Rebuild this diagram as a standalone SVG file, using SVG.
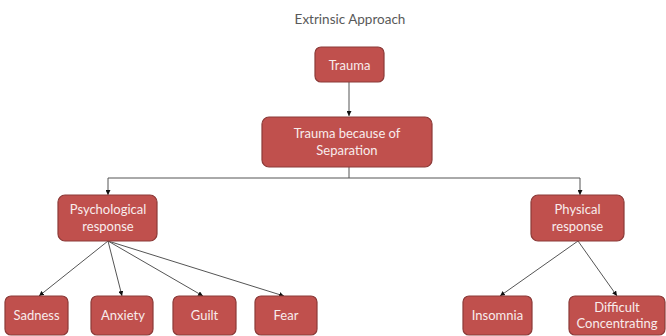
<svg xmlns="http://www.w3.org/2000/svg" width="666" height="336" viewBox="0 0 666 336">
<style>
.box{fill:#C0504D;stroke:#8C3A38;stroke-width:1.2}
.t{font-family:Lato,"Liberation Sans",sans-serif;font-size:13px;fill:#F8ECEC;text-anchor:middle}
.c{stroke:#555;stroke-width:1;fill:none}
</style>
<defs>
<marker id="a" viewBox="0 0 6 6" refX="6" refY="3" markerWidth="5" markerHeight="5" orient="auto"><path d="M0,0L6,3L0,6z" fill="#111"/></marker>
</defs>
<rect width="666" height="336" fill="#fff"/>
<text x="350" y="24" font-family="Lato,'Liberation Sans',sans-serif" font-size="13.5" fill="#595959" text-anchor="middle">Extrinsic Approach</text>
<g id="connectors">
<path class="c" d="M349,82V116" marker-end="url(#a)"/>
<path class="c" d="M349,167V178"/>
<path class="c" d="M108,178H580"/>
<path class="c" d="M108,178V195" marker-end="url(#a)"/>
<path class="c" d="M580,178V195" marker-end="url(#a)"/>
<path class="c" d="M108,241L39,296" marker-end="url(#a)"/>
<path class="c" d="M108,241L122,296" marker-end="url(#a)"/>
<path class="c" d="M108,241L203,296" marker-end="url(#a)"/>
<path class="c" d="M108,241L284,296" marker-end="url(#a)"/>
<path class="c" d="M578,241L500,296" marker-end="url(#a)"/>
<path class="c" d="M578,241L617,296" marker-end="url(#a)"/>
</g>
<g id="trauma"><rect class="box" x="315" y="47" width="69" height="35" rx="6"/><text class="t" x="349.5" y="69.5">Trauma</text></g>
<g id="separation"><rect class="box" x="262" y="117" width="170" height="50" rx="7"/><text class="t" x="347" y="138">Trauma because of</text><text class="t" x="347" y="155">Separation</text></g>
<g id="psych"><rect class="box" x="58" y="195" width="99" height="46" rx="7"/><text class="t" x="108" y="214">Psychological</text><text class="t" x="108" y="231">response</text></g>
<g id="phys"><rect class="box" x="531" y="195" width="93" height="46" rx="7"/><text class="t" x="577.5" y="214">Physical</text><text class="t" x="577.5" y="231">response</text></g>
<g id="sadness"><rect class="box" x="5" y="296" width="63" height="39" rx="6"/><text class="t" x="36.5" y="320">Sadness</text></g>
<g id="anxiety"><rect class="box" x="91" y="296" width="62" height="39" rx="6"/><text class="t" x="123" y="320">Anxiety</text></g>
<g id="guilt"><rect class="box" x="173" y="296" width="63" height="39" rx="6"/><text class="t" x="204.5" y="320">Guilt</text></g>
<g id="fear"><rect class="box" x="255" y="296" width="62" height="39" rx="6"/><text class="t" x="286" y="320">Fear</text></g>
<g id="insomnia"><rect class="box" x="463" y="296" width="69" height="39" rx="6"/><text class="t" x="497.5" y="320">Insomnia</text></g>
<g id="difficult"><rect class="box" x="569" y="296" width="96" height="39" rx="6"/><text class="t" x="617" y="312">Difficult</text><text class="t" x="617" y="328">Concentrating</text></g>
</svg>
